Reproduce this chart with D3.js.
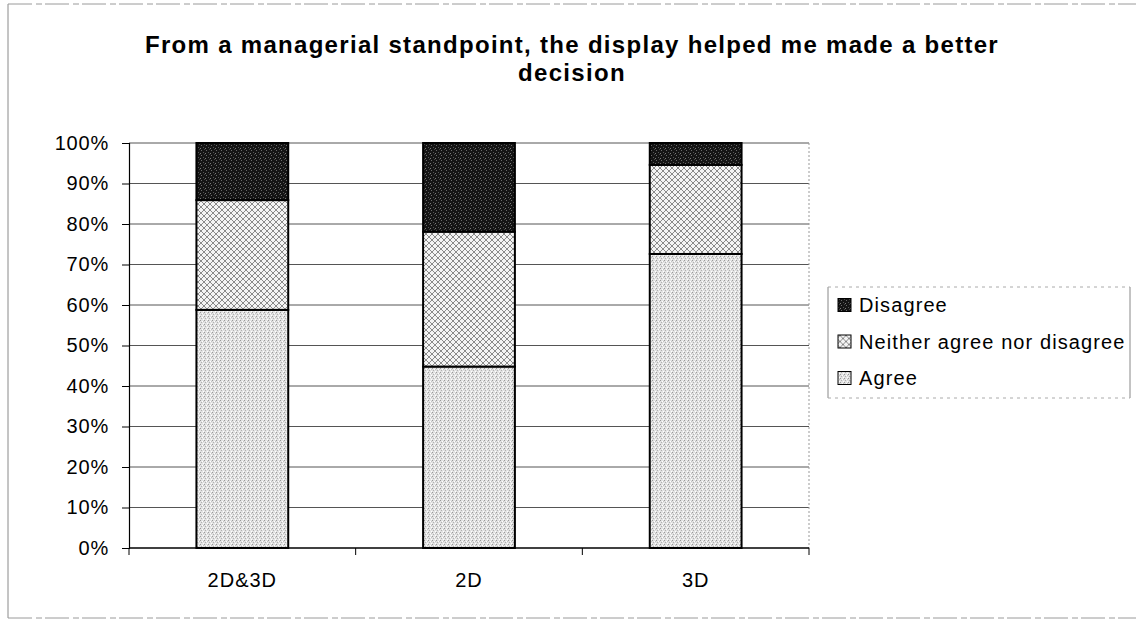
<!DOCTYPE html>
<html>
<head>
<meta charset="utf-8">
<script src="https://cdn.jsdelivr.net/npm/d3@7"></script>
<style>
  html, body { margin: 0; padding: 0; background: #fff; }
  svg { display: block; }
  text { font-family: "Liberation Sans", Arial, sans-serif; fill: #000; }
</style>
</head>
<body>
<svg id="chart" width="1136" height="620"></svg>
<script>
// Survey responses (% of participants) per display type
const categories = ["2D&3D", "2D", "3D"];
const agree      = [58.8, 44.8, 72.6];
const neither    = [27.1, 33.3, 22.0];
const disagree   = [14.1, 21.9, 5.4];
const seriesNames = ["Agree", "Neither agree nor disagree", "Disagree"];
const yTicks = [0, 10, 20, 30, 40, 50, 60, 70, 80, 90, 100];
const titleLines = [
  "From a managerial standpoint, the display helped me made a better",
  "decision"
];

const svg = d3.select("#chart");
const W = 1136, H = 620;
const plot = { left: 129, right: 809, top: 143, bottom: 548 };

// ---- fill patterns ----
const defs = svg.append("defs");

const pAgree = defs.append("pattern").attr("id", "pat-agree")
  .attr("patternUnits", "userSpaceOnUse").attr("width", 4).attr("height", 4);
pAgree.append("rect").attr("width", 4).attr("height", 4).attr("fill", "#e2e2e2");
[[0,0,"#9a9a9a"],[2,1,"#ffffff"],[1,2,"#b0b0b0"],[3,3,"#ffffff"],[3,1,"#c4c4c4"]].forEach(([x,y,c]) =>
  pAgree.append("rect").attr("x", x).attr("y", y).attr("width", 1).attr("height", 1).attr("fill", c));

const pNeither = defs.append("pattern").attr("id", "pat-neither")
  .attr("patternUnits", "userSpaceOnUse").attr("width", 6).attr("height", 6);
pNeither.append("rect").attr("width", 6).attr("height", 6).attr("fill", "#f4f4f4");
pNeither.append("path").attr("d", "M0,0 L6,6 M6,0 L0,6")
  .attr("stroke", "#6e6e6e").attr("stroke-width", 0.8).attr("fill", "none");

const pDis = defs.append("pattern").attr("id", "pat-disagree")
  .attr("patternUnits", "userSpaceOnUse").attr("width", 5).attr("height", 5);
pDis.append("rect").attr("width", 5).attr("height", 5).attr("fill", "#141414");
[[1,0,"#6a6a6a"],[3,2,"#555555"],[0,3,"#7a7a7a"],[4,4,"#444444"]].forEach(([x,y,c]) =>
  pDis.append("rect").attr("x", x).attr("y", y).attr("width", 1).attr("height", 1).attr("fill", c));

const fills = {
  "Agree": "url(#pat-agree)",
  "Neither agree nor disagree": "url(#pat-neither)",
  "Disagree": "url(#pat-disagree)"
};

// ---- chart frame ----
svg.append("line").attr("x1", 8).attr("x2", 8).attr("y1", 4).attr("y2", 618)
  .attr("stroke", "#8a8a8a").attr("stroke-width", 1);
svg.append("line").attr("x1", 8).attr("x2", 1136).attr("y1", 4).attr("y2", 4)
  .attr("stroke", "#9a9a9a").attr("stroke-width", 1).attr("stroke-dasharray", "24 4 6 3");
svg.append("line").attr("x1", 8).attr("x2", 1136).attr("y1", 618).attr("y2", 618)
  .attr("stroke", "#9a9a9a").attr("stroke-width", 1).attr("stroke-dasharray", "24 4 6 3");

// ---- title ----
svg.selectAll("text.title").data(titleLines).join("text")
  .attr("class", "title")
  .attr("x", 572)
  .attr("y", (d, i) => 53 + i * 28)
  .attr("text-anchor", "middle")
  .style("font-size", "24px")
  .style("font-weight", "bold")
  .style("letter-spacing", "1.3px")
  .text(d => d);

// ---- scales ----
const x = d3.scaleBand().domain(categories)
  .range([plot.left, plot.right])
  .paddingInner(0.595).paddingOuter(0.2975);
const y = d3.scaleLinear().domain([0, 100]).range([plot.bottom, plot.top]);

// ---- gridlines ----
svg.append("g").selectAll("line").data(yTicks.filter(t => t > 0)).join("line")
  .attr("x1", plot.left).attr("x2", plot.right)
  .attr("y1", d => y(d)).attr("y2", d => y(d))
  .attr("stroke", "#555").attr("stroke-width", 1);

// right edge of plot area
svg.append("line").attr("x1", plot.right).attr("x2", plot.right)
  .attr("y1", plot.top).attr("y2", plot.bottom)
  .attr("stroke", "#999").attr("stroke-width", 1).attr("stroke-dasharray", "2 2");

// ---- stacked bars ----
const rows = categories.map((c, i) => ({
  category: c,
  "Agree": agree[i],
  "Neither agree nor disagree": neither[i],
  "Disagree": disagree[i]
}));
const stacked = d3.stack().keys(seriesNames)(rows);

svg.append("g").selectAll("g").data(stacked).join("g")
  .attr("fill", d => fills[d.key])
  .selectAll("rect").data(d => d).join("rect")
  .attr("x", d => x(d.data.category))
  .attr("width", x.bandwidth())
  .attr("y", d => y(d[1]))
  .attr("height", d => y(d[0]) - y(d[1]))
  .attr("stroke", "#000").attr("stroke-width", 2);

// ---- y axis ----
const yAxis = svg.append("g").attr("transform", `translate(${plot.left},0)`)
  .call(d3.axisLeft(y).tickValues(yTicks).tickFormat(d => d + "%").tickSize(7).tickPadding(13));
yAxis.select(".domain").attr("stroke", "#000").attr("stroke-width", 1.2);
yAxis.selectAll(".tick line").attr("stroke", "#000");
yAxis.selectAll(".tick text")
  .style("font-size", "20px").style("letter-spacing", "0.8px")
  .attr("font-family", null).attr("fill", "#000");

// ---- x axis ----
const xAxisG = svg.append("g").attr("transform", `translate(0,${plot.bottom})`);
xAxisG.append("line").attr("x1", plot.left).attr("x2", plot.right)
  .attr("stroke", "#000").attr("stroke-width", 1.5);
const boundaries = [plot.left].concat(categories.map(c => x(c) + x.bandwidth() + x.step() * x.paddingInner() / 2));
boundaries[boundaries.length - 1] = plot.right;
xAxisG.selectAll("line.tick").data(boundaries).join("line")
  .attr("class", "tick")
  .attr("x1", d => d).attr("x2", d => d)
  .attr("y1", 0).attr("y2", 7)
  .attr("stroke", "#000").attr("stroke-width", 1);
xAxisG.selectAll("text").data(categories).join("text")
  .attr("x", d => x(d) + x.bandwidth() / 2)
  .attr("y", 39)
  .attr("text-anchor", "middle")
  .style("font-size", "20px")
  .style("letter-spacing", "1px")
  .text(d => d);

// ---- legend ----
const legend = svg.append("g");
const lg = { x0: 828, x1: 1130, y0: 287, y1: 398 };
legend.append("line").attr("x1", lg.x0).attr("x2", lg.x0).attr("y1", lg.y0).attr("y2", lg.y1)
  .attr("stroke", "#888");
legend.append("line").attr("x1", lg.x1).attr("x2", lg.x1).attr("y1", lg.y0).attr("y2", lg.y1)
  .attr("stroke", "#888");
legend.append("line").attr("x1", lg.x0).attr("x2", lg.x1).attr("y1", lg.y0).attr("y2", lg.y0)
  .attr("stroke", "#aaa").attr("stroke-dasharray", "3 4");
legend.append("line").attr("x1", lg.x0).attr("x2", lg.x1).attr("y1", lg.y1).attr("y2", lg.y1)
  .attr("stroke", "#aaa").attr("stroke-dasharray", "3 4");

const legendOrder = seriesNames.slice().reverse();
const items = legend.selectAll("g.item").data(legendOrder).join("g")
  .attr("class", "item")
  .attr("transform", (d, i) => `translate(0,${305 + i * 36.5})`);
items.append("rect")
  .attr("x", 838).attr("y", -6.5).attr("width", 13).attr("height", 13)
  .attr("fill", d => fills[d]).attr("stroke", "#000").attr("stroke-width", 1);
items.append("text")
  .attr("x", 859).attr("y", 7)
  .style("font-size", "20px")
  .style("letter-spacing", "1.1px")
  .text(d => d);
</script>
</body>
</html>
